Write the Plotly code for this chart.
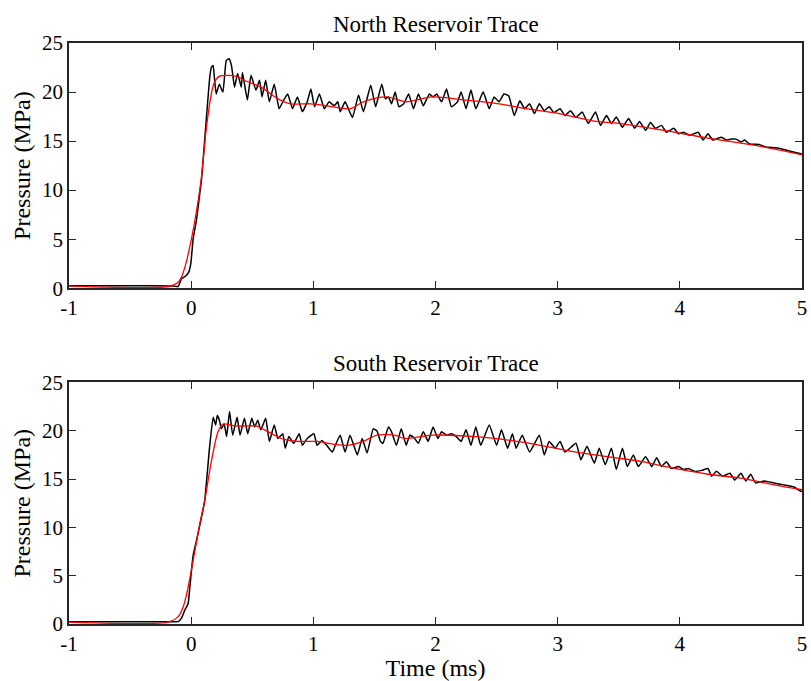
import plotly.graph_objects as go
from plotly.subplots import make_subplots

# ---------------- data ----------------
north_t = [-1.0, -0.5, -0.15, -0.106, -0.08, -0.04, -0.02, -0.003, 0.016, 0.043, 0.07, 0.084,
           0.097, 0.125, 0.152, 0.165, 0.18, 0.19, 0.205, 0.23, 0.26, 0.287, 0.31, 0.33, 0.355,
           0.38, 0.41, 0.42, 0.46, 0.49, 0.53, 0.56, 0.58, 0.61, 0.64, 0.68, 0.72, 0.75, 0.79,
           0.83, 0.87, 0.91, 0.95, 0.98, 1.01, 1.05, 1.09, 1.13, 1.17, 1.20, 1.22, 1.26, 1.32,
           1.37, 1.41, 1.47, 1.51, 1.56, 1.59, 1.615, 1.64, 1.67, 1.70, 1.74, 1.78, 1.82, 1.86,
           1.90, 1.95, 1.98, 2.01, 2.05, 2.09, 2.13, 2.18, 2.21, 2.25, 2.29, 2.33, 2.39, 2.44,
           2.48, 2.52, 2.56, 2.60, 2.645, 2.69, 2.73, 2.77, 2.81, 2.85, 2.89, 2.93, 2.97, 3.02,
           3.06, 3.105, 3.15, 3.20, 3.25, 3.31, 3.35, 3.40, 3.44, 3.48, 3.53, 3.58, 3.63, 3.67,
           3.72, 3.76, 3.80, 3.85, 3.89, 3.95, 3.99, 4.03, 4.08, 4.15, 4.19, 4.23, 4.27, 4.34,
           4.38, 4.42, 4.46, 4.50, 4.53, 4.57, 4.65, 4.70, 4.80, 4.88, 4.99, 5.0]
north_p = [0.25, 0.25, 0.22, 0.17, 0.95, 1.3, 1.64, 2.5, 5.0, 6.9, 9.6, 11.0,
           13.0, 17.4, 21.5, 22.5, 22.7, 21.5, 19.8, 20.8, 20.0, 23.2, 23.4, 22.7, 20.5,
           21.9, 20.5, 22.0, 19.2, 21.7, 20.2, 21.2, 19.5, 21.2, 19.0, 20.8, 18.3, 19.0, 19.8,
           18.3, 19.5, 18.0, 19.0, 20.3, 18.5, 19.8, 18.3, 19.0, 18.6, 19.0, 18.0, 19.0, 17.4,
           19.7, 18.0, 20.7, 18.5, 20.8, 19.3, 19.5, 18.8, 20.0, 18.5, 18.8, 19.8, 18.3, 19.8,
           18.6, 19.8, 19.5, 19.8, 19.0, 20.3, 18.5, 19.0, 20.0, 18.3, 20.2, 18.3, 20.0, 18.3,
           19.5, 19.0, 19.8, 19.6, 17.6, 19.1, 18.3, 18.8, 17.8, 18.8, 18.1, 18.5, 17.9, 18.3,
           17.6, 18.1, 17.4, 17.96, 16.8, 17.96, 16.6, 17.6, 16.8, 17.45, 16.4, 17.3, 16.3, 17.0,
           16.1, 16.9, 16.3, 16.6, 15.9, 16.3, 15.75, 15.9, 15.6, 15.9, 15.1, 15.75, 15.1, 15.4,
           15.1, 15.2, 15.2, 14.9, 15.1, 14.7, 14.66, 14.4, 14.3, 14.05, 13.7, 13.65]

north_fit_t = [-1.0, -0.19, -0.106, -0.08, -0.04, 0.002, 0.043, 0.084, 0.125, 0.165, 0.19,
               0.23, 0.37, 0.45, 0.57, 0.71, 0.815, 0.98, 1.11, 1.30, 1.41, 1.60, 1.76, 1.97,
               2.23, 2.52, 2.74, 3.01, 3.31, 3.42, 3.82, 4.23, 4.64, 5.0]
north_fit_p = [0.2, 0.17, 0.6, 1.1, 2.66, 5.0, 7.8, 11.3, 16.4, 19.8, 21.0,
               21.6, 21.6, 21.1, 20.5, 19.3, 18.8, 18.8, 18.6, 18.3, 19.0, 19.5, 19.0, 19.5,
               19.2, 18.8, 18.3, 17.8, 17.0, 16.9, 16.2, 15.3, 14.5, 13.6]

south_t = [-1.0, -0.5, -0.15, -0.106, -0.079, -0.052, -0.025, -0.011, 0.016, 0.043, 0.07,
           0.11, 0.15, 0.18, 0.2, 0.214, 0.233, 0.247, 0.27, 0.29, 0.314, 0.34, 0.376, 0.40,
           0.436, 0.463, 0.496, 0.52, 0.545, 0.57, 0.61, 0.64, 0.68, 0.71, 0.75, 0.77, 0.80,
           0.84, 0.884, 0.91, 0.95, 1.005, 1.03, 1.07, 1.11, 1.155, 1.18, 1.22, 1.26, 1.30,
           1.36, 1.40, 1.44, 1.49, 1.52, 1.55, 1.57, 1.615, 1.64, 1.68, 1.72, 1.76, 1.79, 1.83,
           1.86, 1.90, 1.94, 1.98, 2.02, 2.05, 2.09, 2.13, 2.17, 2.21, 2.25, 2.29, 2.33, 2.37,
           2.44, 2.50, 2.54, 2.59, 2.63, 2.66, 2.71, 2.77, 2.85, 2.89, 2.93, 2.98, 3.02, 3.06,
           3.15, 3.19, 3.24, 3.30, 3.34, 3.39, 3.44, 3.48, 3.53, 3.57, 3.62, 3.66, 3.72, 3.77,
           3.81, 3.85, 3.89, 3.93, 3.99, 4.03, 4.07, 4.12, 4.18, 4.23, 4.26, 4.30, 4.35, 4.41,
           4.45, 4.50, 4.54, 4.58, 4.62, 4.69, 4.77, 4.85, 4.93, 4.99, 5.0]
south_p = [0.24, 0.24, 0.24, 0.24, 0.6, 1.44, 2.1, 3.8, 7.1, 8.6, 10.2,
           12.7, 18.2, 21.4, 20.6, 21.6, 21.0, 20.2, 20.7, 19.4, 22.0, 19.55, 21.4, 19.55,
           21.3, 19.7, 21.3, 20.4, 21.1, 20.1, 21.3, 18.9, 20.6, 19.2, 19.7, 18.2, 19.4,
           18.7, 19.7, 18.5, 19.2, 19.7, 18.5, 19.0, 18.5, 17.8, 18.5, 19.55, 17.8, 19.55,
           17.5, 19.2, 17.7, 20.2, 20.0, 18.9, 18.7, 20.4, 19.9, 18.5, 20.2, 18.5, 19.55, 19.2,
           18.7, 19.9, 18.9, 20.4, 19.2, 19.9, 19.55, 19.7, 19.4, 18.9, 20.1, 18.5, 20.4, 18.5,
           20.6, 18.5, 20.1, 18.2, 19.7, 18.2, 19.55, 17.8, 19.55, 17.5, 18.9, 18.2, 18.9, 17.8,
           18.7, 17.0, 18.4, 16.65, 18.2, 16.5, 18.2, 16.0, 18.2, 16.3, 17.5, 16.3, 17.3, 16.3,
           17.2, 16.3, 16.8, 16.1, 16.3, 16.0, 16.1, 15.8, 15.9, 16.1, 15.3, 15.8, 15.3, 15.6,
           14.9, 15.6, 14.8, 15.5, 14.6, 14.8, 14.6, 14.4, 14.2, 13.75, 13.75]

south_fit_t = [-1.0, -0.19, -0.106, -0.065, -0.025, 0.016, 0.07, 0.11, 0.165, 0.22, 0.26,
               0.355, 0.46, 0.53, 0.60, 0.68, 0.76, 0.87, 1.03, 1.17, 1.28, 1.41, 1.52, 1.68,
               1.74, 1.98, 2.33, 2.55, 2.77, 2.98, 3.15, 3.42, 3.69, 3.96, 4.23, 4.5, 4.77, 5.0]
south_fit_p = [0.2, 0.2, 0.76, 1.78, 3.8, 6.57, 10.3, 12.7, 16.8, 19.9, 20.7,
               20.5, 20.5, 20.5, 20.1, 19.55, 19.1, 18.9, 18.9, 18.6, 18.5, 18.9, 19.55, 19.5,
               19.2, 19.55, 19.4, 19.1, 18.7, 18.2, 17.8, 17.3, 16.8, 16.1, 15.5, 15.1, 14.4, 13.9]

x_ticks = [-1, 0, 1, 2, 3, 4, 5]
x_tick_labels = ["-1", "0", "1", "2", "3", "4", "5"]
y_ticks = [0, 5, 10, 15, 20, 25]
titles = ["North Reservoir Trace", "South Reservoir Trace"]

# ---------------- figure ----------------
FONT = "Liberation Serif"
AX = "#262626"
TICK_SIZE = 21
LABEL_SIZE = 24
TITLE_SIZE = 23

fig = make_subplots(rows=2, cols=1, vertical_spacing=0.1)

fig.add_trace(go.Scatter(x=north_t, y=north_p, mode="lines",
                         line=dict(color="black", width=1.5, shape="spline", smoothing=0.4),
                         showlegend=False), row=1, col=1)
fig.add_trace(go.Scatter(x=north_fit_t, y=north_fit_p, mode="lines",
                         line=dict(color="#ff0000", width=1.3, shape="spline", smoothing=0.8),
                         showlegend=False), row=1, col=1)
fig.add_trace(go.Scatter(x=south_t, y=south_p, mode="lines",
                         line=dict(color="black", width=1.5, shape="spline", smoothing=0.4),
                         showlegend=False), row=2, col=1)
fig.add_trace(go.Scatter(x=south_fit_t, y=south_fit_p, mode="lines",
                         line=dict(color="#ff0000", width=1.3, shape="spline", smoothing=0.8),
                         showlegend=False), row=2, col=1)

axis_common = dict(showline=True, linecolor=AX, linewidth=1.5, mirror="ticks",
                   ticks="inside", ticklen=7, tickwidth=1.2, tickcolor=AX,
                   showgrid=False, zeroline=False, ticklabeloverflow="allow",
                   tickfont=dict(family=FONT, size=TICK_SIZE, color="black"))

for r in (1, 2):
    fig.update_xaxes(range=[-1, 5], tickvals=x_ticks, ticktext=x_tick_labels,
                     row=r, col=1, **axis_common)
    fig.update_yaxes(range=[0, 25], tickvals=y_ticks, row=r, col=1,
                     title=dict(text="Pressure (MPa)",
                                font=dict(family=FONT, size=LABEL_SIZE, color="black"),
                                standoff=5),
                     **axis_common)

fig.update_xaxes(title=dict(text="Time (ms)",
                            font=dict(family=FONT, size=LABEL_SIZE, color="black"),
                            standoff=2), row=2, col=1)

fig.update_layout(
    width=811, height=681,
    margin=dict(l=69, r=4, t=43, b=57),
    paper_bgcolor="white", plot_bgcolor="white",
    xaxis=dict(domain=[0, 1]),
    yaxis=dict(domain=[0.578, 1.0]),
    yaxis2=dict(domain=[0.0, 0.4157]),
)

fig.add_annotation(text=titles[0], xref="paper", yref="paper", x=0.5, y=1.0, yshift=4,
                   xanchor="center", yanchor="bottom", showarrow=False,
                   font=dict(family=FONT, size=TITLE_SIZE, color="black"))
fig.add_annotation(text=titles[1], xref="paper", yref="paper", x=0.5, y=0.4157, yshift=4,
                   xanchor="center", yanchor="bottom", showarrow=False,
                   font=dict(family=FONT, size=TITLE_SIZE, color="black"))

fig.write_html("out.html")
